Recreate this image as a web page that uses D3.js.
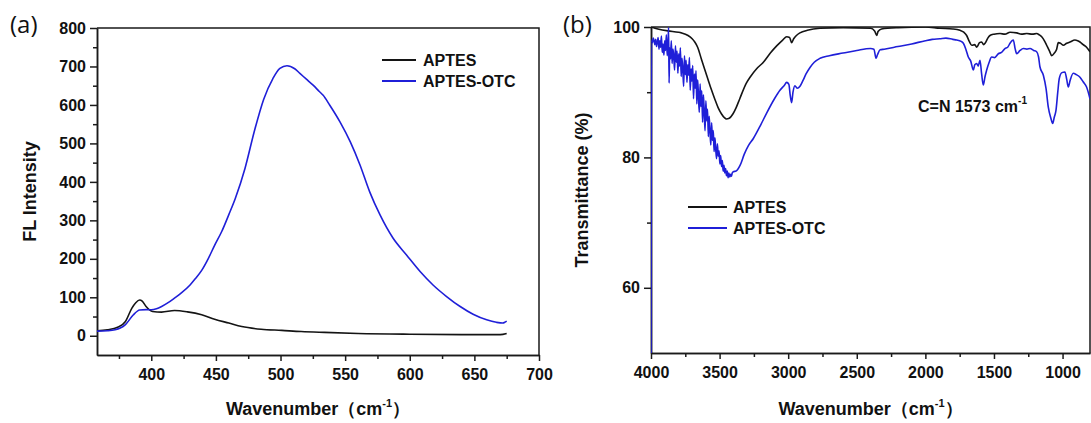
<!DOCTYPE html>
<html>
<head>
<meta charset="utf-8">
<script src="https://cdn.jsdelivr.net/npm/d3@7"></script>
<style>
    body { margin: 0; background: #fff; }
    svg { display: block; font-family: "Liberation Sans", Arial, sans-serif; }
    .tick text { font-size: 16px; font-weight: bold; fill: #111; }
    .domain, .tick line { stroke: #1a1a1a; stroke-width: 1.5; }
    .axis-title { font-size: 18px; font-weight: bold; fill: #111; }
    .legend-text { font-size: 16px; font-weight: bold; fill: #111; }
    .panel-tag { font-family: "Open Sans", sans-serif; font-size: 24px; fill: #111; }
</style>
</head>
<body>
<svg id="chart" width="1091" height="423"></svg>
<script>
// (a) fluorescence spectra
const flAptesX = [358, 366, 374, 380, 385, 388, 391, 393, 396, 401, 408, 418, 428, 439, 449, 460, 470, 485, 501, 516, 534, 560, 600, 640, 670, 675];
const flAptesY = [13, 15.5, 22, 37, 72, 86, 93, 90, 76, 63, 61.5, 65.5, 62, 54.5, 43, 33, 24, 17, 14, 11, 8.7, 6, 4, 3, 3, 6];

const flOtcX = [358, 366, 372, 376, 380, 386, 391, 396, 400, 404, 408, 413, 418, 423.5, 430, 434, 439, 444, 449, 454.5, 460, 465, 472.5, 480, 487, 494, 499.5, 505, 511, 515, 520, 525, 530, 533, 538, 546, 554, 561.5, 569, 577, 587, 597.5, 608, 618, 628.5, 639, 649, 659.5, 667, 672, 674, 675];
const flOtcY = [12, 13, 15.5, 20, 29, 54, 67, 68, 67.5, 70, 76, 86, 98, 112, 132, 148, 170, 200, 235, 271, 315, 357, 435, 535, 615, 668, 695, 702, 694, 682, 667, 652, 635, 625, 600, 556, 504, 444, 374, 314, 254, 210, 167, 132, 102, 76, 56, 41.5, 35, 33, 36, 38];

// (b) FTIR transmittance spectra
const irAptesX = [4000, 3950, 3876, 3800, 3779, 3730, 3700, 3681, 3660, 3633, 3610, 3585, 3560, 3536, 3510, 3487, 3465, 3451, 3430, 3402, 3380, 3353, 3305, 3278, 3230, 3181, 3130, 3084, 3040, 3011, 2990, 2975, 2960, 2940, 2914, 2860, 2768, 2600, 2400, 2370, 2355, 2345, 2320, 2200, 2000, 1894, 1800, 1748, 1720, 1699, 1680, 1662, 1640, 1626, 1605, 1590, 1575, 1565, 1545, 1529, 1500, 1456, 1420, 1383, 1334, 1300, 1261, 1220, 1189, 1170, 1152, 1130, 1116, 1095, 1079, 1060, 1043, 1031, 1015, 994, 970, 946, 910, 890, 873, 850, 825, 800];
const irAptesY = [100, 99.7, 99.4, 99.2, 99.1, 98.7, 98.2, 97.7, 96.9, 95.1, 93.6, 92.0, 90.4, 89.0, 87.6, 86.7, 86.1, 85.9, 86.0, 86.7, 87.6, 89.0, 91.4, 92.3, 93.6, 94.6, 96.0, 97.1, 98.0, 98.5, 98.4, 97.6, 98.2, 98.7, 99.1, 99.5, 99.8, 99.9, 99.8, 99.4, 98.7, 99.3, 99.7, 99.9, 100, 99.8, 99.7, 99.5, 99.2, 98.7, 97.8, 97.2, 97.3, 96.9, 97.6, 97.7, 97.3, 97.5, 98.3, 98.7, 98.9, 99.0, 98.9, 99.2, 99.1, 98.9, 99.0, 98.9, 99.0, 98.8, 98.5, 97.8, 97.2, 96.3, 95.6, 96.0, 96.6, 97.6, 97.5, 97.2, 97.5, 97.7, 98.0, 97.9, 97.7, 97.3, 96.9, 96.2];

const irOtcX = [4000, 3996, 3990, 3984, 3978, 3972, 3966, 3960, 3954, 3948, 3942, 3936, 3930, 3924, 3918, 3912, 3906, 3900, 3894, 3888, 3882, 3876, 3872, 3868, 3864, 3858, 3852, 3846, 3840, 3834, 3828, 3822, 3816, 3810, 3804, 3798, 3792, 3786, 3780, 3774, 3768, 3762, 3756, 3750, 3744, 3738, 3732, 3726, 3720, 3714, 3708, 3702, 3696, 3690, 3684, 3678, 3672, 3666, 3660, 3654, 3648, 3642, 3636, 3630, 3624, 3618, 3612, 3606, 3600, 3594, 3588, 3582, 3576, 3570, 3564, 3558, 3552, 3546, 3540, 3534, 3528, 3522, 3516, 3510, 3504, 3498, 3492, 3486, 3480, 3474, 3468, 3462, 3456, 3450, 3444, 3438, 3432, 3426, 3420, 3414, 3408, 3400, 3380, 3350, 3320, 3290, 3254, 3200, 3157, 3100, 3060, 3030, 3011, 2995, 2985, 2975, 2965, 2951, 2935, 2914, 2892, 2870, 2841, 2810, 2768, 2700, 2600, 2500, 2400, 2375, 2360, 2350, 2330, 2300, 2200, 2100, 2000, 1950, 1894, 1850, 1800, 1772, 1740, 1723, 1705, 1687, 1670, 1650, 1640, 1626, 1615, 1602, 1590, 1578, 1565, 1553, 1535, 1517, 1495, 1468, 1445, 1420, 1400, 1383, 1368, 1359, 1345, 1334, 1310, 1286, 1260, 1237, 1210, 1189, 1175, 1165, 1140, 1120, 1104, 1085, 1072, 1060, 1048, 1035, 1024, 1005, 983, 970, 958, 945, 922, 900, 873, 850, 825, 800];
const irOtcY = [50, 98.0, 97.6, 98.3, 97.9, 97.3, 98.1, 97.0, 97.7, 98.4, 96.6, 97.9, 96.9, 98.6, 96.1, 97.4, 95.7, 97.9, 96.4, 98.8, 95.6, 97.2, 99.9, 91.4, 96.8, 95.1, 97.9, 94.4, 96.6, 95.5, 93.4, 97.1, 94.6, 96.3, 92.9, 95.9, 94.0, 96.8, 92.4, 95.2, 93.4, 90.9, 95.6, 92.7, 94.9, 91.5, 94.2, 92.6, 95.3, 90.3, 93.6, 91.7, 94.1, 89.0, 92.8, 90.6, 93.3, 88.2, 91.9, 89.4, 86.9, 91.3, 87.8, 90.2, 85.4, 89.6, 86.9, 84.1, 88.7, 85.6, 87.4, 83.2, 86.3, 84.0, 81.9, 85.3, 82.6, 84.1, 80.9, 83.0, 81.2, 79.8, 82.1, 80.2, 81.0, 79.0, 80.3, 78.6, 79.5, 77.9, 78.8, 77.6, 78.3, 77.2, 77.9, 76.9, 77.6, 77.0, 77.4, 77.1, 77.6, 77.8, 77.9, 78.8, 80.5, 81.8, 82.9, 85.0, 86.8, 89.0, 90.3, 91.0, 91.5, 91.2, 89.5, 88.4, 90.0, 91.0, 90.6, 90.9, 91.8, 92.8, 93.8, 94.6, 95.2, 95.6, 96.0, 96.4, 96.7, 96.6, 95.2, 95.7, 96.5, 96.6, 97.0, 97.4, 97.9, 98.1, 98.2, 98.3, 98.1, 98.0, 97.8, 97.5, 96.6, 95.4, 94.8, 93.4, 94.2, 94.4, 94.0, 94.9, 92.8, 91.1, 92.4, 93.4, 94.6, 95.4, 95.3, 95.9, 96.1, 96.7, 96.9, 97.5, 97.9, 98.0, 96.6, 95.9, 96.4, 96.7, 96.6, 96.7, 96.4, 96.2, 95.4, 93.9, 92.6, 90.5, 87.7, 86.0, 85.2, 86.2, 87.2, 90.0, 92.1, 93.0, 93.1, 92.0, 90.8, 91.8, 92.9, 92.7, 92.3, 91.6, 90.8, 89.0];

const seriesNames = ["APTES", "APTES-OTC"];
const seriesColors = ["#141414", "#1f1fd8"];

const flXTicks = [400, 450, 500, 550, 600, 650, 700];
const flXMinor = [375, 425, 475, 525, 575, 625, 675];
const flYTicks = [0, 100, 200, 300, 400, 500, 600, 700, 800];
const flYMinor = [50, 150, 250, 350, 450, 550, 650, 750];

const irXTicks = [4000, 3500, 3000, 2500, 2000, 1500, 1000];
const irXMinor = [3750, 3250, 2750, 2250, 1750, 1250];
const irYTicks = [60, 80, 100];
const irYMinor = [70, 90];

const zip = (xs, ys) => xs.map((x, i) => [x, ys[i]]);

let svg = d3.select("#chart");

function drawPanel(cfg) {
    let x = d3.scaleLinear().domain(cfg.xDomain).range(cfg.xRange);
    let y = d3.scaleLinear().domain(cfg.yDomain).range(cfg.yRange);
    let g = svg.append("g").attr("id", cfg.id);
    let bottom = cfg.yRange[0], top = cfg.yRange[1];
    let left = cfg.xRange[0], right = cfg.xRange[1];

    // frame (top + right edges)
    g.append("path")
        .attr("d", `M${left},${top}H${right}V${bottom}`)
        .attr("fill", "none").attr("stroke", "#1a1a1a").attr("stroke-width", 1.5);

    // minor ticks first, then major axes on top
    g.append("g").attr("transform", `translate(0,${bottom})`)
        .call(d3.axisBottom(x).tickValues(cfg.xMinor).tickSize(4).tickFormat("").tickSizeOuter(0));
    g.append("g").attr("transform", `translate(${left},0)`)
        .call(d3.axisLeft(y).tickValues(cfg.yMinor).tickSize(4).tickFormat("").tickSizeOuter(0));

    g.append("g").attr("transform", `translate(0,${bottom})`)
        .call(d3.axisBottom(x).tickValues(cfg.xTicks).tickSize(6).tickPadding(8).tickSizeOuter(0).tickFormat(d3.format("d")));
    g.append("g").attr("transform", `translate(${left},0)`)
        .call(d3.axisLeft(y).tickValues(cfg.yTicks).tickSize(7).tickPadding(4).tickSizeOuter(0).tickFormat(d3.format("d")));

    let clipId = cfg.id + "-clip";
    g.append("clipPath").attr("id", clipId)
        .append("rect").attr("x", left).attr("y", top).attr("width", right - left).attr("height", bottom - top);

    let line = d3.line().x(d => x(d[0])).y(d => y(d[1])).curve(d3.curveMonotoneX);
    cfg.series.forEach((s, i) => {
        g.append("path")
            .datum(s)
            .attr("clip-path", `url(#${clipId})`)
            .attr("fill", "none")
            .attr("stroke", seriesColors[i])
            .attr("stroke-width", 1.6)
            .attr("stroke-linejoin", "round")
            .attr("d", line);
    });

    // legend
    seriesNames.forEach((name, i) => {
        let ly = cfg.legend.y + i * cfg.legend.gap;
        g.append("line")
            .attr("x1", cfg.legend.x1).attr("x2", cfg.legend.x2)
            .attr("y1", ly).attr("y2", ly)
            .attr("stroke", seriesColors[i]).attr("stroke-width", 2);
        g.append("text").attr("class", "legend-text")
            .attr("x", cfg.legend.tx).attr("y", ly + 6)
            .text(name);
    });

    // axis titles
    let xt = g.append("text").attr("class", "axis-title")
        .attr("x", (left + right) / 2).attr("y", 415)
        .attr("text-anchor", "middle");
    xt.append("tspan").text("Wavenumber（cm");
    xt.append("tspan").attr("font-size", 11).attr("dy", -8).text("-1");
    xt.append("tspan").attr("dy", 8).text("）");

    g.append("text").attr("class", "axis-title")
        .attr("transform", `translate(${cfg.yTitleX},${(top + bottom) / 2}) rotate(-90)`)
        .attr("text-anchor", "middle")
        .text(cfg.yTitle);

    g.append("text").attr("class", "panel-tag")
        .attr("x", cfg.tag.x).attr("y", cfg.tag.y)
        .text(cfg.tag.text);

    return { x, y, g };
}

drawPanel({
    id: "panel-a",
    xDomain: [358, 700], xRange: [97, 539],
    yDomain: [-50, 800], yRange: [355, 28],
    xTicks: flXTicks, xMinor: flXMinor, yTicks: flYTicks, yMinor: flYMinor,
    series: [zip(flAptesX, flAptesY), zip(flOtcX, flOtcY)],
    legend: { x1: 382, x2: 416, tx: 423, y: 60, gap: 21 },
    yTitle: "FL Intensity", yTitleX: 36,
    tag: { x: 10, y: 33, text: "(a)" }
});

let b = drawPanel({
    id: "panel-b",
    xDomain: [4000, 800], xRange: [651, 1090],
    yDomain: [50, 100], yRange: [353, 27],
    xTicks: irXTicks, xMinor: irXMinor, yTicks: irYTicks, yMinor: irYMinor,
    series: [zip(irAptesX, irAptesY), zip(irOtcX, irOtcY)],
    legend: { x1: 688, x2: 727, tx: 733, y: 207, gap: 21 },
    yTitle: "Transmittance (%)", yTitleX: 588,
    tag: { x: 563, y: 33, text: "(b)" }
});

// C=N annotation
let note = b.g.append("text").attr("class", "legend-text").attr("x", 918).attr("y", 112);
note.append("tspan").text("C=N 1573 cm");
note.append("tspan").attr("font-size", 10).attr("dy", -8).text("-1");
</script>
</body>
</html>
